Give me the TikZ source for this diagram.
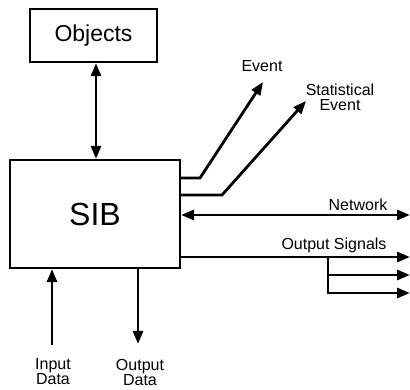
\documentclass[tikz,border=0pt]{standalone}
\usepackage{fontspec}
\setmainfont{Liberation Sans}
\usetikzlibrary{arrows.meta}
\begin{document}
\begin{tikzpicture}[x=1pt,y=-1pt,
  box/.style={draw,line width=2.2pt,inner sep=0pt},
  wire/.style={line width=2.8pt},
  tip/.style={wire,-{Triangle[length=13pt,width=10pt]}},
  both/.style={wire,{Triangle[length=13pt,width=10pt]}-{Triangle[length=13pt,width=10pt]}},
  lab/.style={font=\fontsize{16}{15}\selectfont,inner sep=0pt,align=center}]
\useasboundingbox (0,0) rectangle (410,390);
% blocks
\node[box,minimum width=127pt,minimum height=53pt,font=\fontsize{23}{24}\selectfont] (obj) at (93.5,35.5) {Objects};
\node[box,minimum width=170pt,minimum height=108pt,font=\fontsize{32}{32}\selectfont] (sib) at (95,214) {SIB};
% objects link
\draw[both] (obj.south -| 96,0) -- (sib.north -| 96,0);
% event outputs
\node[lab] (ev) at (262,66) {Event};
\node[lab] (sev) at (340,97) {Statistical\\Event};
\coordinate (evtip) at (263,82);
\coordinate (sevtip) at (306,101);
\draw[tip] (sib.east |- 0,178) -- (200,178) -- (evtip);
\draw[tip] (sib.east |- 0,195) -- (222,195) -- (sevtip);
% network
\coordinate (netend) at (410,215);
\draw[both] (sib.east |- netend) -- (netend);
\node[lab,anchor=south] (net) at (358,211) {Network};
% output signals
\coordinate (os1) at (410,257);
\coordinate (os2) at (410,275);
\coordinate (os3) at (410,293);
\coordinate (br) at (328,257);
\draw[tip] (sib.east |- os1) -- (os1);
\node[lab,anchor=south] (outsig) at (334,253) {Output Signals};
\draw[tip] (br) |- (os3);
\draw[tip] (br |- os2) -- (os2);
% data below
\node[lab] (indata) at (53,372) {Input\\Data};
\node[lab] (outdata) at (140,372) {Output\\Data};
\coordinate (inbot) at (52,345);
\coordinate (outbot) at (138,344);
\draw[tip] (inbot) -- (inbot |- sib.south);
\draw[tip] (outbot |- sib.south) -- (outbot);
\end{tikzpicture}
\end{document}
